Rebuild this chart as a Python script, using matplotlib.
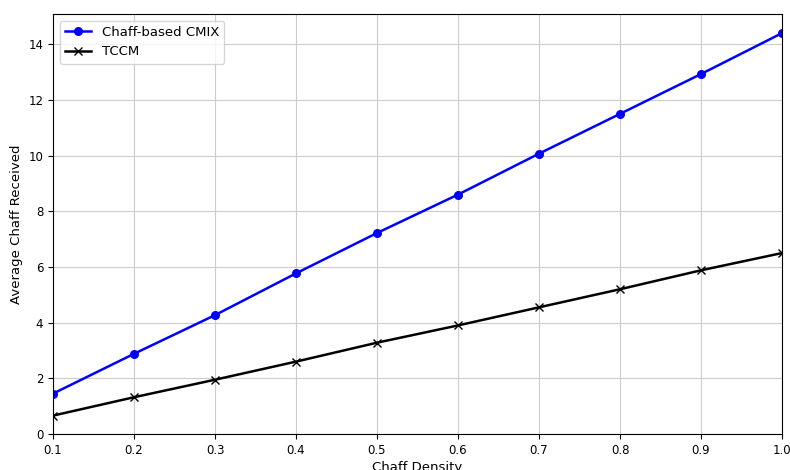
import matplotlib
matplotlib.use("Agg")
import matplotlib.pyplot as plt

# data
density = [0.1, 0.2, 0.3, 0.4, 0.5, 0.6, 0.7, 0.8, 0.9, 1.0]
cmix = [1.45, 2.88, 4.27, 5.77, 7.22, 8.60, 10.07, 11.50, 12.93, 14.40]
tccm = [0.66, 1.32, 1.95, 2.60, 3.28, 3.90, 4.55, 5.20, 5.88, 6.50]

fig = plt.figure(figsize=(7.9, 4.7), dpi=100)
ax = fig.add_axes([53 / 790, 36 / 470, 729 / 790, 420 / 470])

ax.plot(density, cmix, color="blue", marker="o", markersize=5.5, linewidth=1.8,
        label="Chaff-based CMIX")
ax.plot(density, tccm, color="black", marker="x", markersize=5.5, linewidth=1.8,
        label="TCCM")

ax.set_xlim(0.1, 1.0)
ax.set_ylim(bottom=0)
ax.set_xlabel("Chaff Density", fontsize=9.5, labelpad=3)
ax.set_ylabel("Average Chaff Received", fontsize=9.5)
ax.tick_params(labelsize=8.5)
ax.grid(True, color="#cccccc", linewidth=0.8)
ax.legend(loc="upper left", fontsize=9.5)

fig.savefig("out.png", dpi=100)
